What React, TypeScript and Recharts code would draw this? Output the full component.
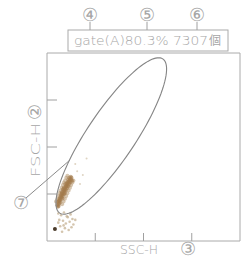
import React from 'react';
import { ScatterChart, Scatter, XAxis, YAxis, ReferenceArea } from 'recharts';

// axis channels
const axisDomain = [0, 1024];
const xTicks = [256, 512, 768];
const yTicks = [256, 512, 768];

// events (SSC-H, FSC-H channels)
const coreX = [55,60,58,65,62,68,70,72,66,75,78,74,80,84,82,88,86,90,92,95,96,100,98,103,106,104,110,108,112,115,118,116,120,124,122,128,130,126,133,70,76,82,94,100,88,110,64,58,62,79,85,91,97,105,113,119];
const coreY = [195,200,210,205,215,220,212,228,230,235,240,248,250,245,258,262,270,255,275,268,282,278,290,295,288,302,305,312,298,318,310,325,330,322,338,335,345,350,328,240,258,232,260,300,285,322,222,186,190,265,280,292,310,315,335,345];
const edgeX = [48,55,60,66,72,78,84,90,96,102,108,80,88,95,102,108,115,122,128,135,140];
const edgeY = [215,228,245,262,275,290,305,318,330,345,355,200,215,230,245,260,275,290,305,318,330];
const sparseX = [60,75,90,110,65,85,100,120,140,70,95,115,130,80,150,105,125,60,88,135];
const sparseY = [150,140,155,130,115,110,95,105,90,80,70,60,75,50,115,135,145,100,85,120];
const faintX = [160,190,150,210,175];
const faintY = [380,360,420,450,310];
const darkX = [42];
const darkY = [65];

// gate (A) ellipse parameters in channel units
const gateCenter = [341, 572];
const gateAxes = [501, 129];
const gateAngleDeg = 57;

const toPts = (xs: number[], ys: number[]) => xs.map((x, i) => ({ x, y: ys[i] }));

const gatePts = (() => {
  const th = (gateAngleDeg * Math.PI) / 180;
  const pts: { x: number; y: number }[] = [];
  const n = 120;
  for (let i = 0; i <= n; i++) {
    const t = (i / n) * Math.PI * 2;
    const u = gateAxes[0] * Math.cos(t);
    const v = gateAxes[1] * Math.sin(t);
    pts.push({
      x: gateCenter[0] + u * Math.cos(th) - v * Math.sin(th),
      y: gateCenter[1] + u * Math.sin(th) + v * Math.cos(th),
    });
  }
  return pts;
})();

const txt = '#a6a6a6';
const ln = '#a0a0a0';
const lat = '"DejaVu Sans", sans-serif';
const cjk = '"Noto Sans CJK JP", "DejaVu Sans", sans-serif';

const dot = (r: number, fill: string, op: number) => (p: any) =>
  <circle cx={p.cx} cy={p.cy} r={r} fill={fill} fillOpacity={op} />;

const noLabel = () => <g />;

export default function App() {
  return (
    <div style={{ position: 'absolute', left: 0, top: 0, width: 241, height: 263, background: '#fff' }}>
      <ScatterChart width={241} height={263} margin={{ top: 53, left: 47, right: 1, bottom: 22 }}>
        <XAxis type="number" dataKey="x" domain={axisDomain} ticks={xTicks} height={1} mirror tick={noLabel}
          tickSize={8} axisLine={false} tickLine={{ stroke: ln }} allowDataOverflow />
        <YAxis type="number" dataKey="y" domain={axisDomain} ticks={yTicks} width={1} mirror tick={noLabel}
          tickSize={10} axisLine={false} tickLine={{ stroke: ln }} allowDataOverflow />
        <ReferenceArea x1={0} x2={1024} y1={0} y2={1024} stroke="#aaa" strokeWidth={1} fill="none" />
        <Scatter data={toPts(faintX, faintY)} isAnimationActive={false} shape={dot(1, '#c9b79a', 0.6)} />
        <Scatter data={toPts(sparseX, sparseY)} isAnimationActive={false} shape={dot(1.3, '#c2ad8c', 0.7)} />
        <Scatter data={toPts(edgeX, edgeY)} isAnimationActive={false} shape={dot(2, '#b79770', 0.55)} />
        <Scatter data={toPts(coreX, coreY)} isAnimationActive={false} shape={dot(2, '#a47b4c', 0.6)} />
        <Scatter data={toPts(darkX, darkY)} isAnimationActive={false} shape={dot(2, '#4a3a2a', 1)} />
        <Scatter data={gatePts} isAnimationActive={false} line={{ stroke: '#858585', strokeWidth: 1.1 }}
          shape={() => <g />} />
      </ScatterChart>
      <svg width={241} height={263} style={{ position: 'absolute', left: 0, top: 0, pointerEvents: 'none' }}>
        <rect x={68} y={30} width={160} height={21} fill="#fff" stroke="#aaa" strokeWidth={1} />
        <text x={74} y={45} fontSize={13} fill={txt} fontFamily={lat} fontWeight={200} textLength={134} lengthAdjust="spacingAndGlyphs">gate(A)80.3% 7307</text>
        <text x={215} y={45} fontSize={12} fill={txt} fontFamily={cjk} textAnchor="middle">個</text>
        {[90, 147, 197].map((x) => <line key={x} x1={x} y1={22} x2={x} y2={30} stroke={ln} />)}
        <text x={90} y={21} fontSize={18} fill={txt} fontFamily={lat} fontWeight={200} textAnchor="middle">④</text>
        <text x={147} y={21} fontSize={18} fill={txt} fontFamily={lat} fontWeight={200} textAnchor="middle">⑤</text>
        <text x={197} y={21} fontSize={18} fill={txt} fontFamily={lat} fontWeight={200} textAnchor="middle">⑥</text>
        <text x={120} y={254} fontSize={13} fill={txt} fontFamily={lat} fontWeight={200} textLength={38} lengthAdjust="spacingAndGlyphs">SSC-H</text>
        <text x={188} y={255} fontSize={18} fill={txt} fontFamily={lat} fontWeight={200} textAnchor="middle">③</text>
        <g transform="translate(40,177) rotate(-90)">
          <text x={0} y={0} fontSize={13} fill={txt} fontFamily={lat} fontWeight={200} textLength={54} lengthAdjust="spacingAndGlyphs">FSC-H</text>
          <text x={65} y={1} fontSize={18} fill={txt} fontFamily={lat} fontWeight={200} textAnchor="middle">②</text>
        </g>
        <line x1={26} y1={198} x2={70} y2={160} stroke="#8a8a8a" strokeWidth={1} />
        <text x={21} y={209} fontSize={18} fill={txt} fontFamily={lat} fontWeight={200} textAnchor="middle">⑦</text>
      </svg>
    </div>
  );
}
